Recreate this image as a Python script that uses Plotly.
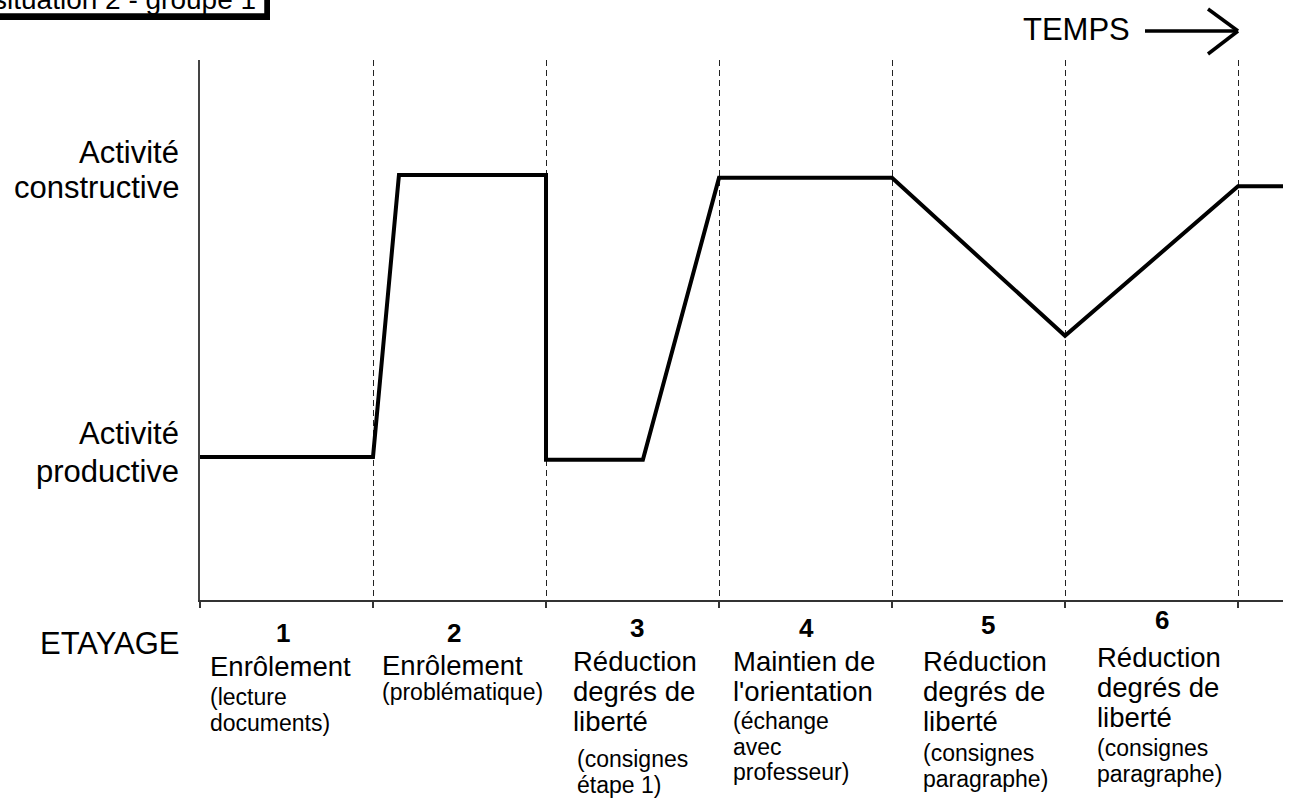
import plotly.graph_objects as go

# time axis: one unit per etayage phase
phase_edges = [0, 1, 2, 3, 4, 5, 6]

# activity curve (1 = productive, 2 = constructive)
temps = [0, 1, 1.15, 2, 2, 2.56, 3, 4, 5, 6, 6.26]
activite = [1, 1, 2, 2, 0.99, 0.99, 1.99, 1.99, 1.43, 1.96, 1.96]

niveau_constructif = ["Activité", "constructive"]
niveau_productif = ["Activité", "productive"]

phase_nums = ["1", "2", "3", "4", "5", "6"]
phase_titles = [
    ["Enrôlement"],
    ["Enrôlement"],
    ["Réduction", "degrés de", "liberté"],
    ["Maintien de", "l'orientation"],
    ["Réduction", "degrés de", "liberté"],
    ["Réduction", "degrés de", "liberté"],
]
phase_notes = [
    ["(lecture", "documents)"],
    ["(problématique)"],
    ["(consignes", "étape 1)"],
    ["(échange", "avec", "professeur)"],
    ["(consignes", "paragraphe)"],
    ["(consignes", "paragraphe)"],
]

titre = "situation 2 - groupe 1"
axe_temps = "TEMPS"
axe_etayage = "ETAYAGE"

# page geometry in pixels (body margin removed below, figure fills the page)
W, H = 1289, 799
X0, X1, Y0, Y1 = 200, 1283, 60, 600  # plot area
L, R, T, B = X0, W - X1, Y0, H - Y1
FONT = "Liberation Sans, Arial, sans-serif"


def px(x):
    return (x - X0) / (X1 - X0)


def py(y):
    return (Y1 - y) / (Y1 - Y0)


fig = go.Figure()
fig.add_trace(go.Scatter(x=temps, y=activite, mode="lines",
                         line=dict(color="black", width=4),
                         hoverinfo="skip", showlegend=False))

ann = []


def txt(text, x, y, size, xanchor="left", bold=False):
    ann.append(dict(text=f"<b>{text}</b>" if bold else text,
                    x=px(x), y=py(y), xref="paper", yref="paper",
                    xanchor=xanchor, yanchor="middle", showarrow=False,
                    font=dict(family=FONT, size=size, color="black")))


# y level labels
for i, s in enumerate(niveau_constructif):
    txt(s, 181, [152, 187][i], 31, "right")
for i, s in enumerate(niveau_productif):
    txt(s, 181, [433, 471][i], 31, "right")

txt(axe_temps, 1021, 30, 31)
txt(axe_etayage, 38, 643, 31)
txt(titre, 258, -1, 28, "right")

# phase labels under the axis
num_x = [283, 454, 637, 806, 988, 1162]
num_y = [633, 633, 628, 628, 625, 620]
title_x = [208, 380, 571, 731, 921, 1095]
title_y = [666, 665, 661, 661, 661, 657]
note_x = [208, 380, 575, 731, 921, 1095]
note_y = [697, 692, 759, 721, 753, 748]
for i in range(6):
    txt(phase_nums[i], num_x[i], num_y[i], 26, "center", bold=True)
    for j, s in enumerate(phase_titles[i]):
        txt(s, title_x[i], title_y[i] + 30 * j, 27.5)
    for j, s in enumerate(phase_notes[i]):
        txt(s, note_x[i], note_y[i] + 25.5 * j, 23)

shapes = [
    # title box with shadow
    dict(type="rect", xref="paper", yref="paper", x0=px(-10), x1=px(270),
         y0=py(20), y1=py(-10), fillcolor="black", line=dict(width=0), layer="below"),
    dict(type="rect", xref="paper", yref="paper", x0=px(-10), x1=px(265),
         y0=py(14), y1=py(-10), fillcolor="white",
         line=dict(color="black", width=1.5), layer="below"),
    # time arrow
    dict(type="line", xref="paper", yref="paper", x0=px(1145), x1=px(1236),
         y0=py(31), y1=py(31), line=dict(color="black", width=3.5)),
    dict(type="line", xref="paper", yref="paper", x0=px(1208), x1=px(1238),
         y0=py(9), y1=py(31), line=dict(color="black", width=3.5)),
    dict(type="line", xref="paper", yref="paper", x0=px(1238), x1=px(1208),
         y0=py(31), y1=py(54), line=dict(color="black", width=3.5)),
]

fig.update_layout(
    width=W, height=H,
    margin=dict(l=L, r=R, t=T, b=B, pad=0),
    paper_bgcolor="white", plot_bgcolor="rgba(0,0,0,0)",
    shapes=shapes, annotations=ann,
    xaxis=dict(range=[0, 6.26], tickvals=phase_edges, showticklabels=False,
               ticks="outside", ticklen=6, tickcolor="#333", tickwidth=1.5,
               showline=True, linecolor="#333", linewidth=1.5,
               showgrid=True, gridcolor="#222", gridwidth=1, griddash="6px,4px",
               zeroline=False, fixedrange=True),
    yaxis=dict(range=[0.493, 2.408], showticklabels=False, ticks="",
               showline=True, linecolor="#444", linewidth=1.5,
               showgrid=False, zeroline=False, fixedrange=True),
    showlegend=False,
)

fig.write_html("out.html",
               config={"displayModeBar": False},
               post_script="document.body.style.margin='0px';"
                           "document.body.style.overflow='hidden';")
